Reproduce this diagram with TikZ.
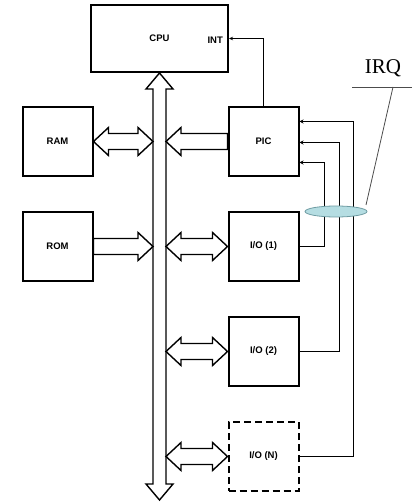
\documentclass[tikz,border=0pt]{standalone}
\usepackage{fontspec}
\usetikzlibrary{arrows.meta,positioning,shapes.geometric,calc,backgrounds}
\newfontfamily\boxfont{Liberation Sans}
\newfontfamily\labelfont{Liberation Serif}
\definecolor{irqfill}{HTML}{B5DDE2}
\definecolor{irqedge}{HTML}{6F9CA3}
\def\fah{15pt}\def\faH{14pt}\def\faw{8pt}
\tikzset{
  fatsize/.code n args={3}{\def\fah{#1}\def\faH{#2}\def\faw{#3}},
  along/.style={shift={(\p1)},rotate=\n1},
  fatdbl/.style={draw,line width=1.4pt,fill=white,line join=miter,
    to path={let \p1=(\tikztostart),\p2=(\tikztotarget),
      \n1={atan2(\y2-\y1,\x2-\x1)},\n2={veclen(\x2-\x1,\y2-\y1)} in
      ([along]0pt,0pt) -- ([along]\fah,\faH) -- ([along]\fah,\faw)
      -- ([along]\n2-\fah,\faw) -- ([along]\n2-\fah,\faH) -- ([along]\n2,0pt)
      -- ([along]\n2-\fah,-\faH) -- ([along]\n2-\fah,-\faw)
      -- ([along]\fah,-\faw) -- ([along]\fah,-\faH) -- cycle}},
  fatone/.style={draw,line width=1.4pt,fill=white,line join=miter,
    to path={let \p1=(\tikztostart),\p2=(\tikztotarget),
      \n1={atan2(\y2-\y1,\x2-\x1)},\n2={veclen(\x2-\x1,\y2-\y1)} in
      ([along]0pt,\faw) -- ([along]\n2-\fah,\faw) -- ([along]\n2-\fah,\faH)
      -- ([along]\n2,0pt) -- ([along]\n2-\fah,-\faH) -- ([along]\n2-\fah,-\faw)
      -- ([along]0pt,-\faw) -- cycle}}
}

\begin{document}
\begin{tikzpicture}[x=1pt,y=-1pt,node distance=34pt and 134pt,
  every node/.style={font=\boxfont\bfseries\fontsize{9.5}{11}\selectfont,align=center}]
\tikzset{unit/.style={draw,line width=2pt,minimum width=70pt,minimum height=69pt,inner sep=0pt},
  ioopt/.style={unit,dash pattern=on 7pt off 4pt},
  irqline/.style={draw,line width=1.5pt,-{Stealth[length=4pt,width=4pt]}},
  intline/.style={draw,line width=1pt,-{Stealth[length=4pt,width=3.5pt]}}}
\useasboundingbox (0,0) rectangle (417,502);
\node[unit,minimum width=137pt,minimum height=67pt] (cpu) at (159.5,38.5) {CPU};
\node[anchor=east,inner sep=0pt] (int) at (223,40) {INT};
\node[unit] (ram) at (57.5,141.5) {RAM};
\node[unit,right=of ram] (pic) {PIC};
\node[unit,below=of ram] (rom) {ROM};
\node[unit,below=of pic] (io1) {I/O (1)};
\node[unit,below=of io1] (io2) {I/O (2)};
\node[ioopt,below=of io2] (ion) {I/O (N)};
% system bus
\coordinate (busend) at (159.5,500);
\coordinate (busl) at ($(cpu.south)+(-6.5,0)$);
\coordinate (busr) at ($(cpu.south)+(6.5,0)$);
\begin{scope}[on background layer]
\draw[fatdbl,fatsize={16pt}{13.5pt}{6.5pt}] (cpu.south) to (busend);
\draw[fatdbl] (ram.east) to (ram.east -| busl);
\draw[fatone] (rom.east) to (rom.east -| busl);
\draw[fatone] (pic.west) to (pic.west -| busr);
\draw[fatdbl] (io1.west) to (io1.west -| busr);
\draw[fatdbl] (io2.west) to (io2.west -| busr);
\draw[fatdbl] (ion.west) to (ion.west -| busr);
\end{scope}
% interrupt lines
\draw[intline] (pic.north) |- (cpu.east);
\draw[irqline] (io1.east) -- ++(25,0) |- ($(pic.east)+(0,21)$);
\draw[irqline] (io2.east) -- ++(40,0) |- ($(pic.east)+(0,1)$);
\draw[irqline] (ion.east) -- ++(54,0) |- ($(pic.east)+(0,-20)$);
\node[ellipse,draw=irqedge,fill=irqfill,line width=0.8pt,minimum width=62pt,minimum height=11pt,inner sep=0pt] (irqbus) at (336,211.5) {};
% label
\node[font=\labelfont\fontsize{21}{24}\selectfont,inner sep=0pt] (irq) at (383,68) {IRQ};
\coordinate (irql) at (352,87);
\coordinate (irqr) at (412,87);
\coordinate (irqk) at (393,87);
\coordinate (irqtip) at (366,205);
\draw[line width=0.8pt,black!70] (irql) -- (irqr);
\draw[line width=0.8pt,black!70] (irqk) -- (irqtip);
\end{tikzpicture}
\end{document}
